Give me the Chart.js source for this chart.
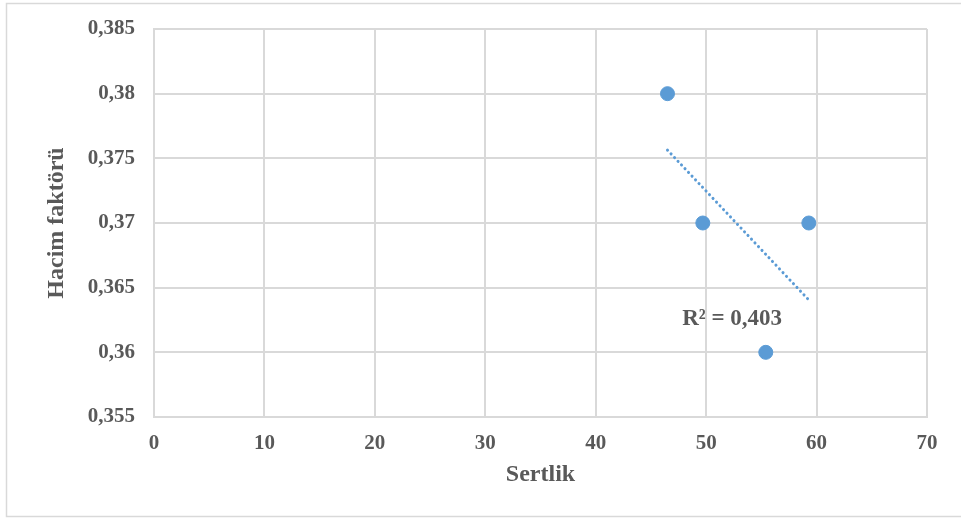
<!DOCTYPE html>
<html>
<head>
<meta charset="utf-8">
<script src="https://cdn.jsdelivr.net/npm/chart.js@4.4.1/dist/chart.umd.min.js"></script>
<style>
  html, body { margin: 0; padding: 0; background: #fff; }
  canvas { display: block; }
</style>
</head>
<body>
<canvas id="hacimChart" width="961" height="518"></canvas>
<script>
// ------ Data ------
const sertlik     = [46.5, 49.7, 59.3, 55.4];
const hacimFaktor = [0.38, 0.37, 0.37, 0.36];
const xTicks      = [0, 10, 20, 30, 40, 50, 60, 70];
const yTicks      = [0.355, 0.36, 0.365, 0.37, 0.375, 0.38, 0.385];

const BLUE = '#5b9bd5';
const TEXT = '#595959';
const GRID = '#d9d9d9';
const SERIF = '"Liberation Serif", "Times New Roman", serif';

// ------ Linear trend (least squares) ------
function linearFit(xs, ys) {
  const n  = xs.length;
  const mx = xs.reduce((s, v) => s + v, 0) / n;
  const my = ys.reduce((s, v) => s + v, 0) / n;
  let sxy = 0, sxx = 0, syy = 0;
  xs.forEach((x, i) => {
    sxy += (x - mx) * (ys[i] - my);
    sxx += (x - mx) ** 2;
    syy += (ys[i] - my) ** 2;
  });
  const slope = sxy / sxx;
  return { slope, intercept: my - slope * mx, r2: (sxy * sxy) / (sxx * syy) };
}

const fit   = linearFit(sertlik, hacimFaktor);
const xMin  = Math.min(...sertlik), xMax = Math.max(...sertlik);
const trend = [xMin, xMax].map(x => ({ x, y: fit.intercept + fit.slope * x }));
const r2Text = 'R² = ' + fit.r2.toFixed(3).replace('.', ',');

const fmt = v => String(+v.toFixed(3)).replace('.', ',');

// outer frame + R² label
const extras = {
  id: 'extras',
  afterDraw(chart, args, opts) {
    const { ctx, scales } = chart;
    ctx.save();
    ctx.strokeStyle = GRID;
    ctx.lineWidth = 1.5;
    ctx.strokeRect(6.5, 3.5, chart.width, chart.height - 5);

    ctx.fillStyle = TEXT;
    ctx.font = `bold 23px ${SERIF}`;
    ctx.textAlign = 'center';
    ctx.textBaseline = 'middle';
    ctx.fillText(r2Text, scales.x.getPixelForValue(opts.at[0]), scales.y.getPixelForValue(opts.at[1]));
    ctx.restore();
  }
};

new Chart(document.getElementById('hacimChart'), {
  type: 'scatter',
  data: {
    datasets: [
      {
        label: 'Hacim faktörü',
        data: sertlik.map((x, i) => ({ x, y: hacimFaktor[i] })),
        backgroundColor: BLUE,
        borderColor: BLUE,
        pointRadius: 7,
        pointHoverRadius: 7
      },
      {
        label: 'Trend',
        type: 'line',
        data: trend,
        borderColor: BLUE,
        borderWidth: 3,
        borderDash: [0.1, 5],
        borderCapStyle: 'round',
        pointRadius: 0,
        fill: false
      }
    ]
  },
  options: {
    responsive: false,
    animation: false,
    layout: { padding: { left: 0, top: 29, right: 34, bottom: 0 } },
    plugins: {
      legend: { display: false },
      tooltip: { enabled: false },
      extras: { at: [52.35, 0.3626] }
    },
    scales: {
      x: {
        type: 'linear',
        min: 0, max: 70,
        afterBuildTicks: s => { s.ticks = xTicks.map(value => ({ value })); },
        afterFit: s => { s.height = 101; s.paddingLeft = 0; s.paddingRight = 0; },
        grid: { color: GRID, lineWidth: 2, drawTicks: false },
        border: { color: GRID, width: 2 },
        ticks: { color: TEXT, padding: 14, font: { family: SERIF, size: 21, weight: 'bold' } },
        title: {
          display: true, text: 'Sertlik', color: TEXT,
          padding: { top: 0, bottom: 29 },
          font: { family: SERIF, size: 24, weight: 'bold' }
        }
      },
      y: {
        min: 0.355, max: 0.385,
        afterBuildTicks: s => { s.ticks = yTicks.map(value => ({ value })); },
        afterFit: s => { s.width = 154; s.paddingTop = 0; s.paddingBottom = 0; },
        grid: { color: GRID, lineWidth: 2, drawTicks: false },
        border: { color: GRID, width: 2 },
        ticks: {
          color: TEXT, padding: 19,
          font: { family: SERIF, size: 21, weight: 'bold' },
          callback: v => fmt(v)
        },
        title: {
          display: true, text: 'Hacim faktörü', color: TEXT,
          padding: { top: 42, bottom: 0 },
          font: { family: SERIF, size: 24, weight: 'bold' }
        }
      }
    }
  },
  plugins: [extras]
});
</script>
</body>
</html>
